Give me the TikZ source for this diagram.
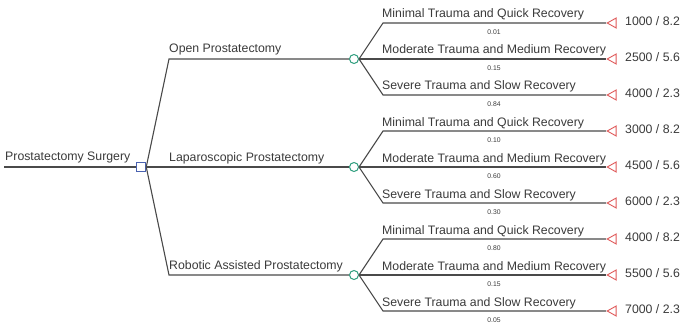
\documentclass[tikz,border=0pt]{standalone}
\usepackage{fontspec}
\setmainfont{Liberation Sans}
\usetikzlibrary{shapes.geometric}

\definecolor{txtgray}{HTML}{3A3A3A}
\definecolor{linegray}{HTML}{4A4A4A}
\definecolor{decblue}{HTML}{4A62B0}
\definecolor{chgreen}{HTML}{2E9E7E}
\definecolor{termred}{HTML}{E05A5A}

\tikzset{
  branch/.style={draw=linegray,line width=1.1pt},
  lab/.style={font=\fontsize{12.3}{14}\selectfont,text=txtgray,inner sep=0pt},
  prob/.style={font=\fontsize{6.8}{8}\selectfont,text=txtgray,inner sep=0pt},
  decision/.style={draw=decblue,fill=white,line width=1pt,minimum size=9.5pt,inner sep=0pt},
  chance/.style={circle,draw=chgreen,fill=white,line width=1pt,minimum size=9pt,inner sep=0pt},
  terminal/.style={isosceles triangle,isosceles triangle stretches,shape border rotate=180,
    draw=termred,fill=white,line width=0.9pt,minimum height=9pt,minimum width=10pt,inner sep=0pt}
}

\begin{document}
\begin{tikzpicture}[x=1pt,y=-1pt]
  \useasboundingbox (0,0) rectangle (682,326);

  % root decision
  \coordinate (start) at (4,167);
  \node[decision] (root) at (141,167) {};
  \draw[branch] (start) -- (root.west);
  \node[lab,anchor=base west] (rootlab) at (5,160) {Prostatectomy Surgery};

  % surgery options
  \foreach \g/\name/\lab in {0/open/Open Prostatectomy,1/lap/Laparoscopic Prostatectomy,2/rob/Robotic Assisted Prostatectomy}{
    \pgfmathsetmacro\yc{59+108*\g}
    \node[chance] (\name) at (354,\yc) {};
    \coordinate (\name k) at (169,\yc);
    \draw[branch] (root.east) -- (\name k) -- (\name.west);
    \node[lab,anchor=base west] (\name lab) at (169,\yc-6) {\lab};
  }

  % outcomes
  \foreach \g/\name/\k/\olab/\p/\v/\u in {
      0/open/-1/Minimal Trauma and Quick Recovery/0.01/1000/8.2,
      0/open/0/Moderate Trauma and Medium Recovery/0.15/2500/5.6,
      0/open/1/Severe Trauma and Slow Recovery/0.84/4000/2.3,
      1/lap/-1/Minimal Trauma and Quick Recovery/0.10/3000/8.2,
      1/lap/0/Moderate Trauma and Medium Recovery/0.60/4500/5.6,
      1/lap/1/Severe Trauma and Slow Recovery/0.30/6000/2.3,
      2/rob/-1/Minimal Trauma and Quick Recovery/0.80/4000/8.2,
      2/rob/0/Moderate Trauma and Medium Recovery/0.15/5500/5.6,
      2/rob/1/Severe Trauma and Slow Recovery/0.05/7000/2.3}{
    \pgfmathsetmacro\yo{59+108*\g+36*\k}
    \coordinate (\name k\k) at (383,\yo);
    \node[terminal,anchor=apex] (\name t\k) at (606,\yo) {};
    \draw[branch] (\name.east) -- (\name k\k) -- (\name t\k.apex);
    \node[lab,anchor=base west] (\name o\k) at (382,\yo-5) {\olab};
    \node[prob] (\name p\k) at (494,\yo+9) {\p};
    \node[lab,anchor=west] (\name v\k) at (625,\yo-1.5) {\v{} / \u};
  }
\end{tikzpicture}
\end{document}
